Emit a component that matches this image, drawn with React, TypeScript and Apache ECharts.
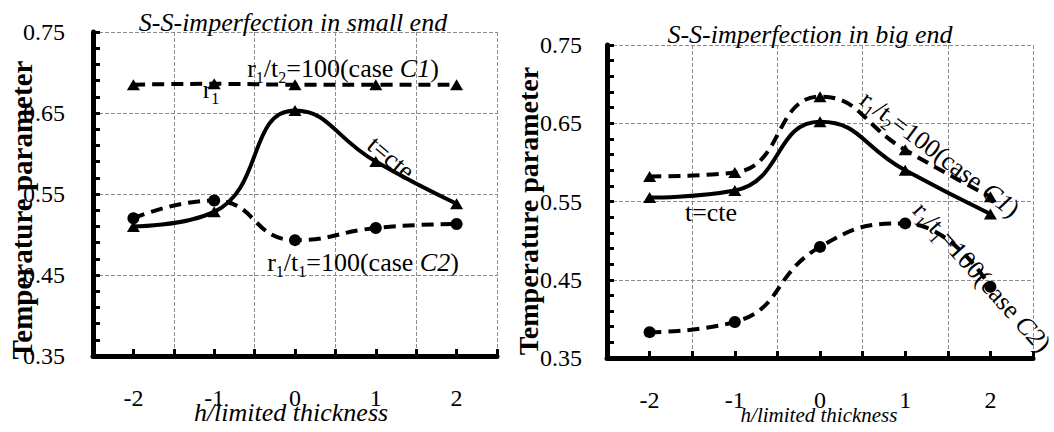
import React, { useEffect, useRef } from "react";
import * as echarts from "echarts";

// Position of the imperfection along the shell (h / limited thickness)
const thicknessCategories = ["-2", "-1", "0", "1", "2"];

// S-S imperfection in small end
const smallEndCaseC1 = [0.685, 0.686, 0.685, 0.685, 0.685];
const smallEndConstT = [0.51, 0.528, 0.653, 0.59, 0.538];
const smallEndCaseC2 = [0.52, 0.542, 0.493, 0.508, 0.513];

// S-S imperfection in big end
const bigEndCaseC1 = [0.582, 0.587, 0.684, 0.616, 0.556];
const bigEndConstT = [0.555, 0.564, 0.652, 0.59, 0.534];
const bigEndCaseC2 = [0.383, 0.396, 0.492, 0.522, 0.441];

const yMin = 0.35;
const yMax = 0.75;
const yStep = 0.1;

const SERIF = "Liberation Serif";
const GRID_COLOR = "#8c8c8c";
const TICK_COLOR = "#000";
const deg = (d: number) => (d * Math.PI) / 180;

const rich: Record<string, any> = {
  n: { fontFamily: SERIF, fontSize: 26, lineHeight: 26, color: "#000" },
  i: { fontFamily: SERIF, fontSize: 26, lineHeight: 26, fontStyle: "italic", color: "#000" },
  s: {
    fontFamily: SERIF,
    fontSize: 16,
    lineHeight: 26,
    verticalAlign: "top",
    padding: [14, 0, 0, 0],
    color: "#000",
  },
};

const caseLabel = (sub: string, caseName: string) =>
  `{n|r}{s|1}{n|/t}{s|${sub}}{n|=100(case }{i|${caseName}}{n|)}`;

function text(x: number, y: number, content: string, extra: any = {}, rotation = 0) {
  return {
    type: "text",
    x,
    y,
    rotation,
    z: 100,
    style: {
      text: content,
      fontFamily: SERIF,
      fontSize: 26,
      fill: "#000",
      align: "center",
      verticalAlign: "middle",
      rich,
      ...extra,
    },
  };
}

function makeYAxis(gridIndex: number, margin: number) {
  return {
    type: "value",
    gridIndex,
    min: yMin,
    max: yMax,
    interval: yStep,
    axisLine: { show: true, lineStyle: { color: "#000", width: 5 } },
    axisTick: { show: true, inside: true, length: 7, lineStyle: { color: TICK_COLOR, width: 3 } },
    minorTick: {
      show: true,
      splitNumber: 5,
      length: 7,
      lineStyle: { color: TICK_COLOR, width: 3 },
    },
    axisLabel: {
      fontFamily: SERIF,
      fontSize: 24,
      color: "#000",
      margin,
      formatter: (v: number) => v.toFixed(2),
    },
    splitLine: { show: true, lineStyle: { color: GRID_COLOR, type: [4, 2], width: 1 } },
  };
}

function makeXAxes(gridIndex: number, margin: number) {
  return [
    {
      type: "category",
      gridIndex,
      data: thicknessCategories,
      position: "bottom",
      boundaryGap: true,
      axisLine: { show: true, onZero: false, lineStyle: { color: "#000", width: 5 } },
      axisTick: {
        show: true,
        inside: true,
        interval: 0,
        length: 7,
        lineStyle: { color: TICK_COLOR, width: 3 },
      },
      axisLabel: { fontFamily: SERIF, fontSize: 24, color: "#000", margin, interval: 0 },
      splitLine: {
        show: true,
        interval: 0,
        lineStyle: { color: GRID_COLOR, type: [4, 2], width: 1 },
      },
    },
    {
      // second axis only adds the tick marks at the category centres
      type: "category",
      gridIndex,
      data: thicknessCategories,
      position: "bottom",
      axisLine: { show: false },
      axisLabel: { show: false },
      splitLine: { show: false },
      axisTick: {
        show: true,
        inside: true,
        alignWithLabel: true,
        interval: 0,
        length: 7,
        lineStyle: { color: TICK_COLOR, width: 3 },
      },
    },
  ];
}

function lineSeries(
  data: number[],
  xAxisIndex: number,
  yAxisIndex: number,
  symbol: string,
  dashed: boolean
) {
  return {
    type: "line",
    xAxisIndex,
    yAxisIndex,
    data,
    smooth: 0.5,
    symbol,
    symbolSize: symbol === "triangle" ? [13, 11] : 12,
    showSymbol: true,
    lineStyle: { color: "#000", width: 4, type: dashed ? [12, 7] : "solid" },
    itemStyle: { color: "#000" },
  };
}

export default function App() {
  const ref = useRef<HTMLDivElement>(null);

  useEffect(() => {
    if (!ref.current) return;
    const chart = echarts.init(ref.current, undefined, { renderer: "svg" });

    chart.setOption({
      animation: false,
      backgroundColor: "#fff",
      grid: [
        { left: 93, top: 32, width: 404, height: 324 },
        { left: 607, top: 45, width: 426, height: 313 },
      ],
      xAxis: [...makeXAxes(0, 30), ...makeXAxes(1, 30)],
      yAxis: [makeYAxis(0, 28), makeYAxis(1, 25)],
      series: [
        lineSeries(smallEndCaseC1, 0, 0, "triangle", true),
        lineSeries(smallEndConstT, 0, 0, "triangle", false),
        lineSeries(smallEndCaseC2, 0, 0, "circle", true),
        lineSeries(bigEndCaseC1, 2, 1, "triangle", true),
        lineSeries(bigEndConstT, 2, 1, "triangle", false),
        lineSeries(bigEndCaseC2, 2, 1, "circle", true),
      ],
      graphic: [
        // chart titles
        text(293, 22, "S-S-imperfection in small end", { fontStyle: "italic" }),
        text(810, 34, "S-S-imperfection in big end", { fontStyle: "italic" }),
        // axis names
        text(291, 412, "h/limited thickness", { fontStyle: "italic" }),
        text(819, 415, "h/limited thickness", { fontStyle: "italic", fontSize: 21 }),
        text(22, 210, "Temperature parameter", { fontWeight: "bold", fontSize: 29 }, Math.PI / 2),
        text(528, 211, "Temperature parameter", { fontWeight: "bold", fontSize: 28 }, Math.PI / 2),
        // curve labels, small end
        text(343, 68, caseLabel("2", "C1")),
        text(211, 89, "{n|r}{s|1}"),
        text(391, 158, "t=cte", {}, deg(-40)),
        text(363, 262, caseLabel("1", "C2")),
        // curve labels, big end
        text(711, 212, "t=cte"),
        text(940, 154, caseLabel("2", "C1"), {}, deg(-37)),
        text(982, 277, caseLabel("1", "C2"), {}, deg(-48)),
      ],
    });

    return () => chart.dispose();
  }, []);

  return (
    <div
      ref={ref}
      style={{ position: "absolute", left: 0, top: 0, width: 1054, height: 432 }}
    />
  );
}
